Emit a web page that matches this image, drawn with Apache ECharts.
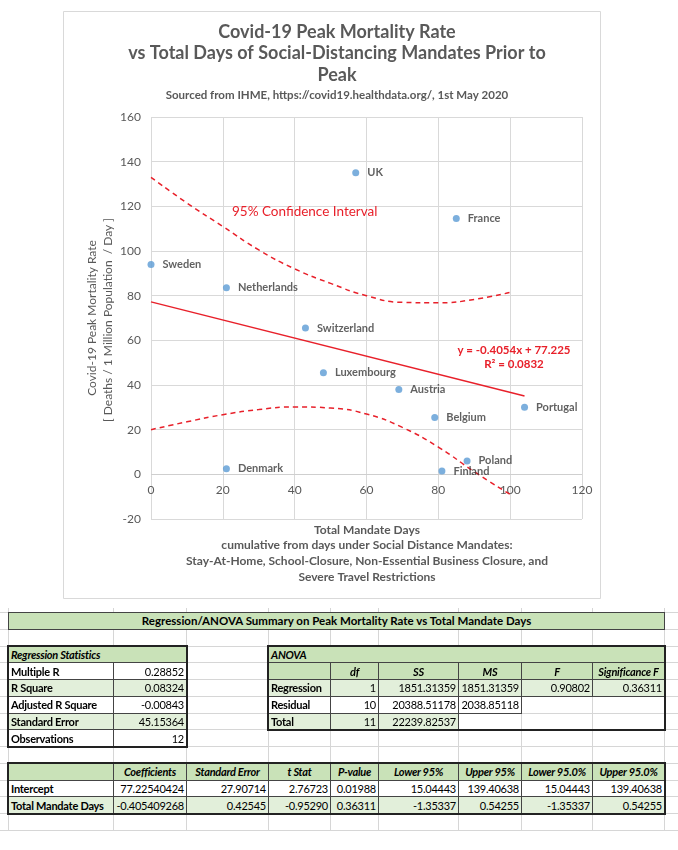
<!DOCTYPE html>
<html>
<head>
<meta charset="utf-8">
<script src="https://cdn.jsdelivr.net/npm/echarts@6/dist/echarts.min.js"></script>
<style>
html,body{margin:0;padding:0;background:#fff;}
#wrap{position:relative;width:678px;height:850px;overflow:hidden;}
#chart{position:absolute;left:0;top:0;width:678px;height:600px;}
#table{position:absolute;left:0;top:0;width:678px;height:850px;font-family:Lato,"Noto Sans",sans-serif;font-size:11px;letter-spacing:-0.25px;color:#000;}
.c{position:absolute;box-sizing:border-box;white-space:nowrap;overflow:visible;line-height:1;display:flex;align-items:center;padding:0 2px;}
.gl{position:absolute;background:#d6d6d6;}
.box{position:absolute;box-sizing:border-box;border:2px solid #222;pointer-events:none;}
</style>
</head>
<body>
<div id="wrap">
<div id="chart"></div>
<div id="table"></div>
</div>
<script>
// ---------- chart data ----------
const countries = ['Sweden','Netherlands','Denmark','Switzerland','Luxembourg','UK','Austria','Belgium','Finland','France','Poland','Portugal'];
const mandateDays = [0, 21, 21, 43, 48, 57, 69, 79, 81, 85, 88, 104];
const peakMortality = [94, 83.5, 2.5, 65.5, 45.5, 135, 38, 25.5, 1.5, 114.5, 6, 30];
const trendX = [0, 104];
const trendY = [77.23, 35.06];
const ciUpperX = [0, 10, 20, 30, 40, 50, 60, 70, 80, 90, 100];
const ciUpperY = [133, 121.5, 111, 100.5, 92, 85.5, 80, 77, 76.8, 78.3, 81.5];
const ciLowerX = [0, 10, 20, 30, 40, 50, 60, 70, 80, 90, 100];
const ciLowerY = [20, 23.5, 26.7, 29, 30.2, 29.7, 27, 21, 12.2, 1.2, -9];
const yTicks = [-20, 0, 20, 40, 60, 80, 100, 120, 140, 160];
const xTicks = [0, 20, 40, 60, 80, 100, 120];

const RED = '#E8202A';
const GREY = '#595959';
const FONT = 'Lato, "Noto Sans", sans-serif';

const chart = echarts.init(document.getElementById('chart'), null, {renderer:'canvas'});
const baseGraphics = [
  {type:'rect', shape:{x:63.5, y:11.5, width:537, height:587}, style:{fill:'none', stroke:'#d9d9d9', lineWidth:1}, z:-1},
  {type:'text', x:337, y:32, style:{text:'Covid-19 Peak Mortality Rate', font:'bold 18px '+FONT, fill:GREY, textAlign:'center', textVerticalAlign:'middle'}},
  {type:'text', x:337, y:53, style:{text:'vs Total Days of Social-Distancing Mandates Prior to', font:'bold 18px '+FONT, fill:GREY, textAlign:'center', textVerticalAlign:'middle'}},
  {type:'text', x:337, y:75, style:{text:'Peak', font:'bold 18px '+FONT, fill:GREY, textAlign:'center', textVerticalAlign:'middle'}},
  {type:'text', x:337, y:95, style:{text:'Sourced from IHME, https://covid19.healthdata.org/, 1st May 2020', font:'bold 11.5px '+FONT, fill:GREY, textAlign:'center', textVerticalAlign:'middle'}},
  {type:'text', x:92, y:318, rotation:Math.PI/2, style:{text:'Covid-19 Peak Mortality Rate', font:'12px '+FONT, fill:GREY, textAlign:'center', textVerticalAlign:'middle'}},
  {type:'text', x:108, y:320, rotation:Math.PI/2, style:{text:'[ Deaths / 1 Million Population  / Day ]', font:'12px '+FONT, fill:GREY, textAlign:'center', textVerticalAlign:'middle'}},
  {type:'text', x:367, y:530, style:{text:'Total Mandate Days', font:'bold 12px '+FONT, fill:GREY, textAlign:'center', textVerticalAlign:'middle'}},
  {type:'text', x:367, y:545.5, style:{text:'cumulative from days under Social Distance Mandates:', font:'bold 12px '+FONT, fill:GREY, textAlign:'center', textVerticalAlign:'middle'}},
  {type:'text', x:367, y:561, style:{text:'Stay-At-Home, School-Closure, Non-Essential Business Closure, and', font:'bold 12px '+FONT, fill:GREY, textAlign:'center', textVerticalAlign:'middle'}},
  {type:'text', x:367, y:577, style:{text:'Severe Travel Restrictions', font:'bold 12px '+FONT, fill:GREY, textAlign:'center', textVerticalAlign:'middle'}},
  {type:'text', x:232, y:212, style:{text:'95% Confidence Interval', font:'13.5px '+FONT, fill:RED, textAlign:'left', textVerticalAlign:'middle'}},
  {type:'text', x:514, y:350, style:{text:'y = -0.4054x + 77.225', font:'bold 11.5px '+FONT, fill:RED, textAlign:'center', textVerticalAlign:'middle'}},
  {type:'text', x:514, y:364, style:{text:'R² = 0.0832', font:'bold 11.5px '+FONT, fill:RED, textAlign:'center', textVerticalAlign:'middle'}}
];
chart.setOption({
  animation:false,
  backgroundColor:'#fff',
  textStyle:{fontFamily:FONT},
  grid:{left:151, right:96, top:117, bottom:81, containLabel:false},
  xAxis:{
    type:'value', min:xTicks[0], max:xTicks[xTicks.length-1], interval:20,
    axisLine:{show:false}, axisTick:{show:false},
    splitLine:{show:true, lineStyle:{color:'#d9d9d9', width:1}},
    axisLabel:{show:false}
  },
  yAxis:{
    type:'value', min:yTicks[0], max:yTicks[yTicks.length-1], interval:20,
    axisLine:{show:false}, axisTick:{show:false},
    splitLine:{show:true, lineStyle:{color:'#d9d9d9', width:1}},
    axisLabel:{color:GREY, fontSize:12, margin:10, fontFamily:FONT}
  },
  series:[
    {
      type:'line', data:ciUpperX.map((x,i)=>[x, ciUpperY[i]]), smooth:true, symbol:'none',
      lineStyle:{color:RED, width:1.5, type:[5,4]}, z:3
    },
    {
      type:'line', data:ciLowerX.map((x,i)=>[x, ciLowerY[i]]), smooth:true, symbol:'none',
      lineStyle:{color:RED, width:1.5, type:[5,4]}, z:3
    },
    {
      type:'line', data:trendX.map((x,i)=>[x, trendY[i]]), symbol:'none',
      lineStyle:{color:RED, width:1.5}, z:3
    },
    {
      type:'scatter', symbolSize:7,
      data:mandateDays.map((x,i)=>[x, peakMortality[i], countries[i]]),
      itemStyle:{color:'#5B9BD5'},
      label:{show:true, position:'right', distance:8, formatter:p=>p.data[2],
             color:'#3a3a3a', fontWeight:'bold', fontSize:11, fontFamily:FONT},
      z:5
    }
  ],
  graphic:baseGraphics
});
// x tick labels placed along the zero line (Excel-style crossing at 0)
const xLabelGraphics = xTicks.map(t=>{
  const p = chart.convertToPixel({gridIndex:0}, [t, 0]);
  return {type:'text', x:p[0], y:p[1]+16, style:{text:String(t), font:'12px '+FONT, fill:GREY, textAlign:'center', textVerticalAlign:'middle'}};
});
const zp0 = chart.convertToPixel({gridIndex:0}, [xTicks[0], 0]);
const zp1 = chart.convertToPixel({gridIndex:0}, [xTicks[xTicks.length-1], 0]);
const zeroLine = {type:'line', shape:{x1:zp0[0], y1:Math.round(zp0[1])+0.5, x2:zp1[0], y2:Math.round(zp1[1])+0.5}, style:{stroke:'#cfcfcf', lineWidth:1}, z:1};
chart.setOption({graphic:baseGraphics.concat(xLabelGraphics, [zeroLine])}, {replaceMerge:['graphic']});

// ---------- table data ----------
const tableTitle = 'Regression/ANOVA Summary on Peak Mortality Rate vs Total Mandate Days';
const regStatLabels = ['Multiple R','R Square','Adjusted R Square','Standard Error','Observations'];
const regStatValues = ['0.28852','0.08324','-0.00843','45.15364','12'];
const anovaHeaders = ['df','SS','MS','F','Significance F'];
const anovaLabels = ['Regression','Residual','Total'];
const anovaRows = [
  ['1','1851.31359','1851.31359','0.90802','0.36311'],
  ['10','20388.51178','2038.85118','',''],
  ['11','22239.82537','','','']
];
const coefHeaders = ['Coefficients','Standard Error','t Stat','P-value','Lower 95%','Upper 95%','Lower 95.0%','Upper 95.0%'];
const coefLabels = ['Intercept','Total Mandate Days'];
const coefRows = [
  ['77.22540424','27.90714','2.76723','0.01988','15.04443','139.40638','15.04443','139.40638'],
  ['-0.405409268','0.42545','-0.95290','0.36311','-1.35337','0.54255','-1.35337','0.54255']
];

const colX = [8,113,186,268,330,378,458,521,592,664,678];
const rowY0 = 612, rowH = 16.75, nRows = 13;
const rowY = i => rowY0 + i*rowH;
const HDR = '#C9E2B8', BAND = '#E2EFDA', LINE = '#444';
const tbl = document.getElementById('table');

function el(cls, css, text){
  const d = document.createElement('div'); d.className = cls;
  Object.assign(d.style, css);
  if (text !== undefined) d.textContent = text;
  tbl.appendChild(d); return d;
}
// sheet gridlines
for (let i=0;i<colX.length;i++) el('gl',{left:colX[i]+'px', top:(rowY0-4)+'px', width:'1px', height:(nRows*rowH+4)+'px'});
for (let r=0;r<=nRows;r++) el('gl',{left:'0px', top:rowY(r)+'px', width:'678px', height:'1px'});

function cell(c0,c1,r,text,opt){
  opt = opt||{};
  const css = {left:colX[c0]+'px', top:rowY(r)+'px', width:(colX[c1]-colX[c0]+1)+'px', height:(rowH+1)+'px',
    background:opt.bg||'#fff', border:'1px solid '+LINE,
    justifyContent: opt.align==='right'?'flex-end':(opt.align==='center'?'center':'flex-start'),
    fontWeight: opt.bold?'bold':'normal', fontStyle: opt.italic?'italic':'normal'};
  if (opt.size) { css.fontSize = opt.size; css.letterSpacing = '0px'; }
  return el('c', css, text);
}
function box(c0,c1,r0,r1){
  el('box',{left:(colX[c0]-1)+'px', top:(rowY(r0)-1)+'px', width:(colX[c1]-colX[c0]+3)+'px', height:(rowY(r1)-rowY(r0)+3)+'px'});
}
// title bar
cell(0,9,0,tableTitle,{bg:HDR,bold:true,align:'center',size:'11.5px'});
// regression statistics
cell(0,2,2,'Regression Statistics',{bg:HDR,bold:true,italic:true});
regStatLabels.forEach((l,i)=>{
  const bg = i%2===1?BAND:'#fff';
  cell(0,1,3+i,l,{bg:bg,bold:true});
  cell(1,2,3+i,regStatValues[i],{bg:bg,align:'right'});
});
box(0,2,2,8);
// anova
cell(3,9,2,'ANOVA',{bg:HDR,bold:true,italic:true});
cell(3,4,3,'',{bg:HDR});
anovaHeaders.forEach((h,j)=>cell(4+j,5+j,3,h,{bg:HDR,bold:true,italic:true,align:'center'}));
anovaLabels.forEach((l,i)=>{
  const bg = i%2===1?'#fff':BAND;
  cell(3,4,4+i,l,{bg:bg,bold:true});
  anovaRows[i].forEach((v,j)=>{
    if (v!=='' ) cell(4+j,5+j,4+i,v,{bg:bg,align:'right'});
  });
});
box(3,9,2,7);
// coefficients
cell(0,1,9,'',{bg:HDR});
coefHeaders.forEach((h,j)=>cell(1+j,2+j,9,h,{bg:HDR,bold:true,italic:true,align:'center'}));
coefLabels.forEach((l,i)=>{
  const bg = i%2===1?BAND:'#fff';
  cell(0,1,10+i,l,{bg:bg,bold:true});
  coefRows[i].forEach((v,j)=>cell(1+j,2+j,10+i,v,{bg:bg,align:'right'}));
});
box(0,9,9,12);
</script>
</body>
</html>
